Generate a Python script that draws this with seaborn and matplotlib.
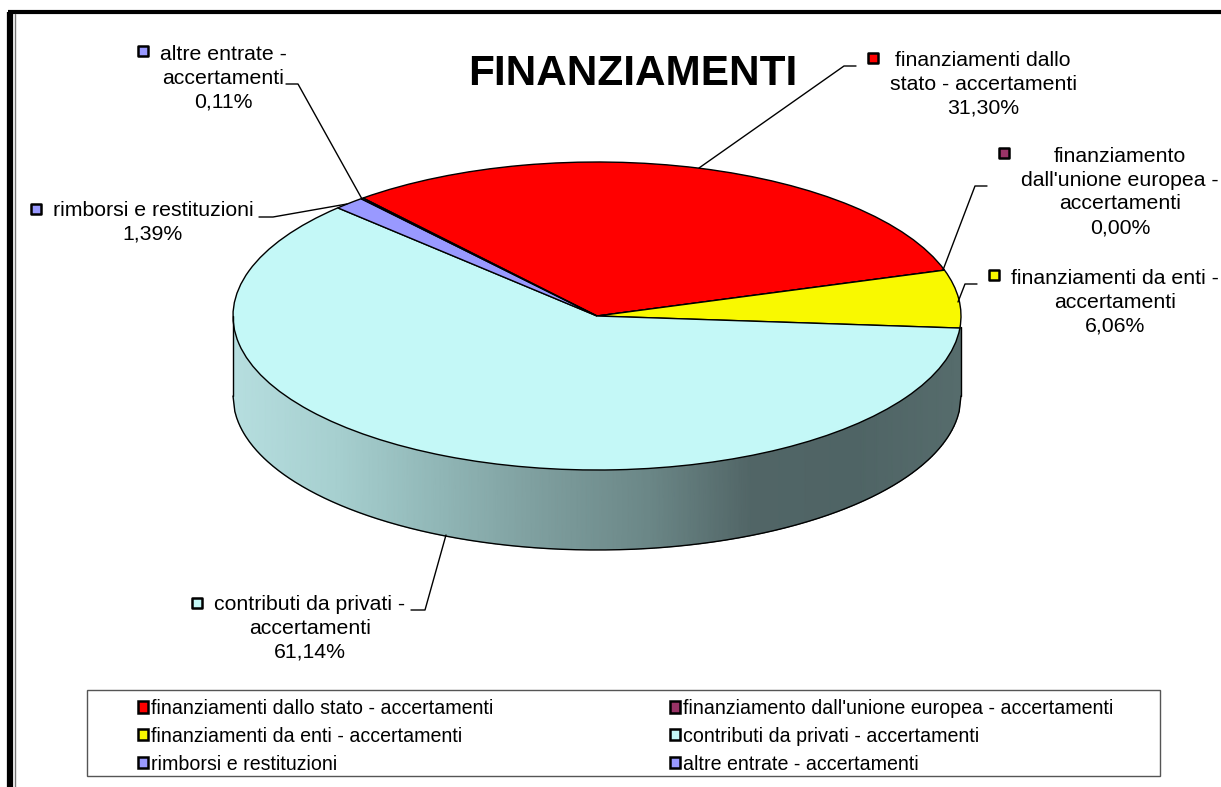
import numpy as np
import matplotlib
matplotlib.use('Agg')
import matplotlib.pyplot as plt
from matplotlib.patches import Patch, Rectangle
import seaborn as sns

# voci del grafico
title = 'FINANZIAMENTI'
names = ['finanziamenti dallo stato - accertamenti',
         "finanziamento dall'unione europea - accertamenti",
         'finanziamenti da enti - accertamenti',
         'contributi da privati - accertamenti',
         'rimborsi e restituzioni',
         'altre entrate - accertamenti']
wrapped = ['finanziamenti dallo\nstato - accertamenti',
           "finanziamento\ndall'unione europea -\naccertamenti",
           'finanziamenti da enti -\naccertamenti',
           'contributi da privati -\naccertamenti',
           'rimborsi e restituzioni',
           'altre entrate -\naccertamenti']
values = [31.30, 0.00, 6.06, 61.14, 1.39, 0.11]
colors = ['#ff0000', '#993366', '#f9f900', '#c4f8f7', '#9999ff', '#9999ff']
side_colors = ['#b6dedf', '#a6cfcf', '#90b6b6', '#7d9d9d', '#6b8787', '#516566', '#4f6465', '#566c6c']

# posizioni in pixel: centro etichetta, quadratino, linea guida
label_pos = [(983, 84), (1120, 192), (1115, 302), (310, 628), (153, 222), (223, 78)]
marker_pos = [(873, 58), (1004, 153), (994, 275), (197, 603), (36, 209), (143, 51)]
leader_x = [[856, 844, 699], [987, 975, 943], [977, 965, 958], [411, 425, 446], [259, 273, 347], [286, 298, 362]]
leader_y = [[66, 66, 168], [186, 186, 270], [284, 284, 302], [610, 610, 535], [217, 217, 204], [84, 84, 199]]

W, H = 1221, 787
sns.set_theme(style='white')
plt.rcParams['font.family'] = ['Liberation Sans', 'DejaVu Sans']

fig = plt.figure(figsize=(W / 100, H / 100), dpi=100, facecolor='white')

# la torta sta in un asse schiacciato, il cerchio diventa ellisse
left, right, top, bottom = 233, 961, 162, 550
ax = fig.add_axes([left / W, 1 - bottom / H, (right - left) / W, (bottom - top) / H])
depth = 80 / 154
ax.pie(values, colors=colors, startangle=130, counterclock=False, radius=1,
       wedgeprops={'edgecolor': 'black', 'linewidth': 1})
ax.set_aspect('auto')
ax.set_xlim(-1, 1)
ax.set_ylim(-1 - depth, 1)

# fianco con sfumatura
xs = np.linspace(-1, 1, 400)
front = -np.sqrt(1 - xs ** 2)
side_cmap = sns.blend_palette(side_colors, n_colors=256, as_cmap=True)
ax.pcolormesh(np.vstack([xs, xs]), np.vstack([front - depth, front]), np.vstack([xs, xs]),
              cmap=side_cmap, shading='gouraud', zorder=0)
ax.plot(xs, front - depth, color='black', lw=1, clip_on=False)
ax.plot([-1, -1], [0, -depth], color='black', lw=1, clip_on=False)
ax.plot([1, 1], [-0.07, -depth], color='black', lw=1, clip_on=False)

# asse in pixel per testi, guide, cornice
over = fig.add_axes([0, 0, 1, 1], facecolor='none')
over.set_xlim(0, W)
over.set_ylim(H, 0)
over.axis('off')

over.plot([10, 10], [H, 12], color='black', lw=4.5, solid_capstyle='butt')
over.plot([8, W], [12, 12], color='black', lw=3, solid_capstyle='butt')
over.plot([14.5, 14.5], [H, 14], color='#777777', lw=1)

over.text(633, 74, title, ha='center', va='center', fontsize=30.4, fontweight='bold', color='black')

for i, v in enumerate(values):
    pct = f'{v:.2f}'.replace('.', ',') + '%'
    over.text(label_pos[i][0], label_pos[i][1], wrapped[i] + '\n' + pct, ha='center', va='center',
              fontsize=15.3, color='black', linespacing=1.32)
    over.plot(leader_x[i], leader_y[i], color='black', lw=1)
    sns.scatterplot(x=[marker_pos[i][0]], y=[marker_pos[i][1]], ax=over, marker='s', s=58,
                    color=colors[i], edgecolor='black', linewidth=1.8, legend=False, zorder=5)

# legenda: riquadro separato perche i margini non sono simmetrici
over.add_patch(Rectangle((87, 690), 1073, 86, facecolor='white', edgecolor='#555555', lw=1))
order = [0, 2, 4, 1, 3, 5]
handles = [Patch(facecolor=colors[i], edgecolor='black', linewidth=1.8) for i in order]
leg = over.legend(handles, [names[i] for i in order], ncols=2, frameon=False, fontsize=14.1,
                  labelcolor='black', loc='upper left', bbox_to_anchor=(138 / W, 1 - 699 / H),
                  bbox_transform=fig.transFigure, borderpad=0, borderaxespad=0, handlelength=0.5,
                  handleheight=0.5, handletextpad=0.15, columnspacing=9.05, labelspacing=0.45)

fig.savefig('out.png', dpi=100)
